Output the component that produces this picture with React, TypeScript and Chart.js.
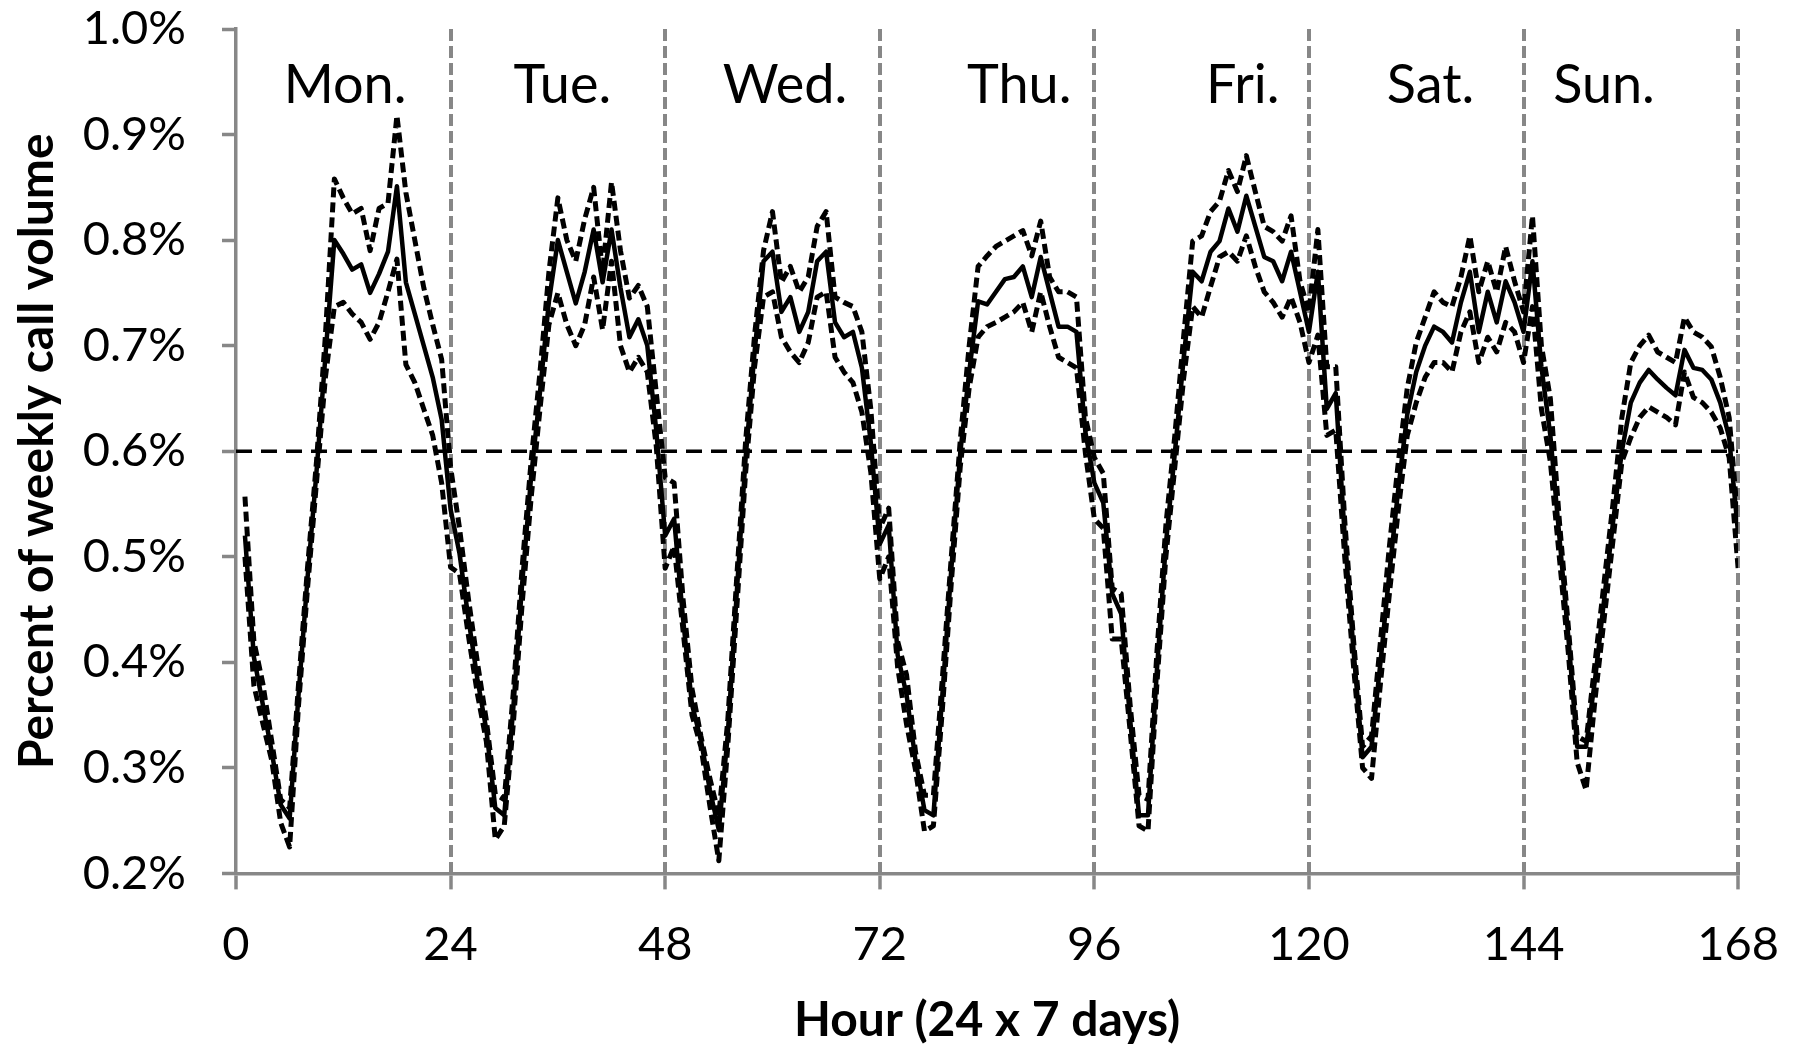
import React, { useEffect, useRef } from "react";
import { Chart, registerables } from "chart.js";

Chart.register(...registerables);

// Hour of the week (1..168)
const hours: number[] = Array.from({ length: 168 }, (_, i) => i + 1);

// Mean share of weekly call volume (%), one value per hour, Mon..Sun
const meanPct: number[] = [
  0.52, 0.405, 0.36, 0.315, 0.265, 0.252, 0.37, 0.48, 0.58, 0.69, 0.8, 0.787, 0.772, 0.777, 0.75, 0.768, 0.789, 0.851, 0.76, 0.73, 0.7, 0.67, 0.63, 0.545,
  0.503, 0.441, 0.384, 0.336, 0.262, 0.255, 0.355, 0.474, 0.575, 0.656, 0.742, 0.8, 0.77, 0.74, 0.77, 0.81, 0.76, 0.81, 0.755, 0.708, 0.725, 0.7, 0.62, 0.52,
  0.536, 0.441, 0.36, 0.326, 0.279, 0.241, 0.331, 0.465, 0.594, 0.694, 0.78, 0.789, 0.732, 0.746, 0.713, 0.732, 0.78, 0.789, 0.722, 0.708, 0.713, 0.679, 0.608, 0.512,
  0.53, 0.407, 0.369, 0.307, 0.26, 0.255, 0.369, 0.488, 0.598, 0.675, 0.742, 0.739, 0.751, 0.763, 0.765, 0.775, 0.746, 0.784, 0.751, 0.718, 0.718, 0.713, 0.618, 0.57,
  0.551, 0.465, 0.446, 0.346, 0.255, 0.255, 0.393, 0.512, 0.598, 0.689, 0.77, 0.761, 0.789, 0.799, 0.83, 0.808, 0.842, 0.813, 0.784, 0.78, 0.761, 0.789, 0.751, 0.713,
  0.77, 0.64, 0.655, 0.52, 0.41, 0.31, 0.32, 0.4, 0.485, 0.565, 0.635, 0.675, 0.7, 0.718, 0.713, 0.703, 0.741, 0.77, 0.713, 0.751, 0.722, 0.761, 0.741, 0.713,
  0.78, 0.68, 0.615, 0.52, 0.425, 0.32, 0.32, 0.384, 0.458, 0.532, 0.6, 0.646, 0.665, 0.677, 0.668, 0.66, 0.653, 0.696, 0.679, 0.677, 0.668, 0.646, 0.613, 0.522,
];

// Upper bound (%)
const upperPct: number[] = [
  0.557, 0.42, 0.38, 0.325, 0.27, 0.262, 0.38, 0.49, 0.59, 0.71, 0.858, 0.84, 0.825, 0.83, 0.79, 0.83, 0.835, 0.918, 0.845, 0.8, 0.755, 0.72, 0.687, 0.585,
  0.527, 0.46, 0.4, 0.345, 0.275, 0.27, 0.37, 0.49, 0.59, 0.675, 0.77, 0.84, 0.8, 0.78, 0.82, 0.85, 0.77, 0.855, 0.79, 0.745, 0.757, 0.737, 0.656, 0.575,
  0.57, 0.46, 0.375, 0.33, 0.29, 0.255, 0.345, 0.48, 0.61, 0.71, 0.79, 0.827, 0.76, 0.775, 0.751, 0.765, 0.813, 0.827, 0.746, 0.741, 0.737, 0.713, 0.64, 0.527,
  0.546, 0.42, 0.388, 0.315, 0.274, 0.274, 0.385, 0.5, 0.61, 0.7, 0.775, 0.785, 0.794, 0.799, 0.804, 0.809, 0.785, 0.818, 0.765, 0.751, 0.751, 0.746, 0.632, 0.594,
  0.579, 0.47, 0.465, 0.36, 0.274, 0.27, 0.41, 0.53, 0.615, 0.71, 0.799, 0.804, 0.827, 0.837, 0.866, 0.846, 0.88, 0.846, 0.813, 0.808, 0.799, 0.823, 0.761, 0.732,
  0.81, 0.68, 0.68, 0.535, 0.42, 0.32, 0.33, 0.42, 0.51, 0.59, 0.66, 0.703, 0.727, 0.751, 0.741, 0.737, 0.765, 0.804, 0.751, 0.78, 0.751, 0.794, 0.761, 0.732,
  0.823, 0.7, 0.65, 0.535, 0.435, 0.33, 0.325, 0.4, 0.475, 0.55, 0.632, 0.684, 0.7, 0.71, 0.694, 0.689, 0.684, 0.727, 0.713, 0.708, 0.699, 0.67, 0.632, 0.532,
];

// Lower bound (%)
const lowerPct: number[] = [
  0.5, 0.378, 0.342, 0.307, 0.248, 0.225, 0.36, 0.47, 0.57, 0.67, 0.737, 0.741, 0.73, 0.722, 0.706, 0.722, 0.751, 0.782, 0.682, 0.665, 0.64, 0.615, 0.57, 0.49,
  0.484, 0.425, 0.37, 0.325, 0.232, 0.245, 0.34, 0.455, 0.555, 0.64, 0.72, 0.75, 0.72, 0.7, 0.72, 0.765, 0.715, 0.78, 0.7, 0.675, 0.689, 0.675, 0.605, 0.489,
  0.51, 0.43, 0.35, 0.32, 0.264, 0.212, 0.32, 0.45, 0.58, 0.68, 0.746, 0.751, 0.708, 0.694, 0.684, 0.703, 0.746, 0.751, 0.689, 0.675, 0.665, 0.637, 0.58, 0.479,
  0.5, 0.395, 0.341, 0.298, 0.24, 0.245, 0.355, 0.475, 0.585, 0.66, 0.708, 0.718, 0.722, 0.727, 0.732, 0.741, 0.713, 0.751, 0.718, 0.689, 0.684, 0.679, 0.598, 0.536,
  0.527, 0.422, 0.422, 0.335, 0.245, 0.24, 0.38, 0.5, 0.585, 0.67, 0.737, 0.727, 0.756, 0.784, 0.789, 0.78, 0.804, 0.775, 0.751, 0.741, 0.727, 0.746, 0.722, 0.684,
  0.71, 0.615, 0.62, 0.5, 0.395, 0.3, 0.29, 0.38, 0.465, 0.545, 0.615, 0.646, 0.67, 0.684, 0.684, 0.675, 0.713, 0.732, 0.684, 0.708, 0.694, 0.722, 0.713, 0.684,
  0.737, 0.64, 0.59, 0.5, 0.41, 0.305, 0.279, 0.365, 0.44, 0.515, 0.59, 0.613, 0.632, 0.642, 0.637, 0.632, 0.625, 0.675, 0.651, 0.646, 0.637, 0.622, 0.594, 0.489,
];

// Reference level (%)
const referenceHours: number[] = [0, 168];
const referencePct: number[] = [0.6, 0.6];

// Day labels and where they sit (hour, % level of baseline)
const dayLabels: string[] = ["Mon.", "Tue.", "Wed.", "Thu.", "Fri.", "Sat.", "Sun."];
const dayLabelHours: number[] = [12.2, 36.5, 61.4, 87.6, 112.6, 133.6, 153];
const dayLabelLevel = 0.93;

const FONT = "Lato, 'Open Sans', sans-serif";
const GRAY = "#878787";

const dayLabelPlugin = {
  id: "dayLabels",
  afterDraw(chart: any) {
    const { ctx, scales } = chart;
    const x = scales.x;
    const y = scales.y;
    ctx.save();
    ctx.font = `54px ${FONT}`;
    ctx.fillStyle = "#000";
    ctx.textAlign = "center";
    ctx.textBaseline = "alphabetic";
    dayLabels.forEach((t, i) => {
      ctx.fillText(t, x.getPixelForValue(dayLabelHours[i]), y.getPixelForValue(dayLabelLevel));
    });
    ctx.restore();
  },
};

export default function App() {
  const ref = useRef<HTMLCanvasElement | null>(null);

  useEffect(() => {
    if (!ref.current) return;
    const toPts = (vals: number[]) => hours.map((h, i) => ({ x: h, y: vals[i] }));
    const chart = new Chart(ref.current, {
      type: "line",
      data: {
        datasets: [
          {
            label: "Mean",
            data: toPts(meanPct),
            borderColor: "#000",
            borderWidth: 4.5,
            borderJoinStyle: "round",
            pointRadius: 0,
            fill: false,
            tension: 0,
          },
          {
            label: "Upper",
            data: toPts(upperPct),
            borderColor: "#000",
            borderWidth: 5,
            borderDash: [10, 5],
            borderJoinStyle: "round",
            pointRadius: 0,
            fill: false,
            tension: 0,
          },
          {
            label: "Lower",
            data: toPts(lowerPct),
            borderColor: "#000",
            borderWidth: 5,
            borderDash: [10, 5],
            borderJoinStyle: "round",
            pointRadius: 0,
            fill: false,
            tension: 0,
          },
          {
            label: "Reference",
            data: referenceHours.map((h, i) => ({ x: h, y: referencePct[i] })),
            borderColor: "#000",
            borderWidth: 3.5,
            borderDash: [16, 9],
            pointRadius: 0,
            fill: false,
          },
        ],
      },
      options: {
        animation: false,
        responsive: false,
        maintainAspectRatio: false,
        layout: { padding: { top: 29, right: 60, left: 0, bottom: 0 } },
        plugins: { legend: { display: false }, tooltip: { enabled: false } },
        scales: {
          x: {
            type: "linear",
            min: 0,
            max: 168,
            ticks: {
              stepSize: 24,
              autoSkip: false,
              maxRotation: 0,
              color: "#000",
              padding: 27,
              font: { family: FONT, size: 47 },
            },
            grid: {
              drawOnChartArea: true,
              color: (c: any) => (c.tick && c.tick.value === 0 ? "rgba(0,0,0,0)" : GRAY),
              lineWidth: 4,
              tickColor: GRAY,
              tickWidth: 3.5,
              tickLength: 16,
            },
            border: { display: true, color: GRAY, width: 3.5, dash: [12, 5] },
            title: {
              display: true,
              text: "Hour (24 x 7 days)",
              color: "#000",
              font: { family: FONT, size: 48, weight: "bold" },
              padding: { top: 0, bottom: 0 },
            },
            afterFit: (s: any) => {
              s.height = 1049 - 873.4;
            },
          },
          y: {
            min: 0.2,
            max: 1.0,
            ticks: {
              stepSize: 0.1,
              color: "#000",
              padding: 36,
              font: { family: FONT, size: 47 },
              callback: (v: any) => Number(v).toFixed(1) + "%",
            },
            grid: {
              drawOnChartArea: false,
              color: GRAY,
              tickColor: GRAY,
              tickWidth: 3.5,
              tickLength: 14,
            },
            border: { display: true, color: GRAY, width: 3.5 },
            title: {
              display: true,
              text: "Percent of weekly call volume",
              color: "#000",
              font: { family: FONT, size: 48, weight: "bold" },
              padding: { top: 9, bottom: 0 },
            },
            afterFit: (s: any) => {
              s.width = 236;
              s.paddingTop = 0;
              s.paddingBottom = 0;
            },
          },
        },
      },
      plugins: [dayLabelPlugin],
    } as any);
    return () => chart.destroy();
  }, []);

  return (
    <div style={{ position: "fixed", left: 0, top: 0, width: 1806, height: 1049, background: "#fff" }}>
      <canvas ref={ref} width={1806} height={1049} style={{ display: "block" }} />
    </div>
  );
}
